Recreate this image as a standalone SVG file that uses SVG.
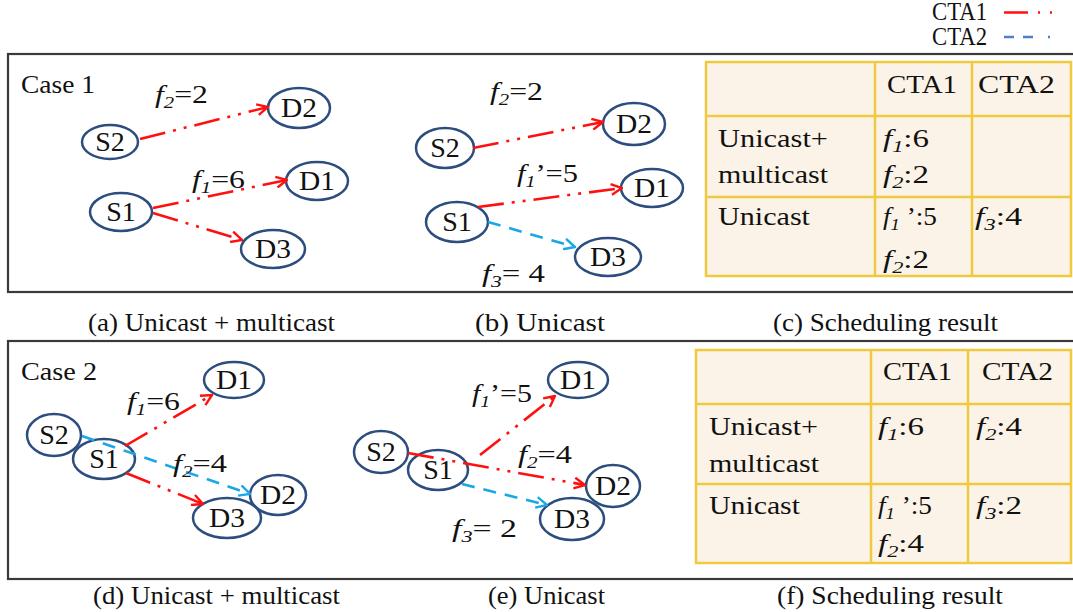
<svg xmlns="http://www.w3.org/2000/svg" width="1073" height="612" viewBox="0 0 1073 612">
<style>
.bg{fill:#fff}
.box{fill:none;stroke:#3a3a3a;stroke-width:2.2}
.node ellipse{fill:#fff;stroke:#2c4d7e;stroke-width:2.5}
.node text{font-family:"Liberation Serif","Times New Roman",serif;font-size:28px;text-anchor:middle;fill:#111}
.red{stroke:#ff1010;stroke-width:2.6;fill:none;stroke-dasharray:26 8 3 8 3 8}
.blue{stroke:#1aa7e6;stroke-width:2.6;fill:none;stroke-dasharray:13 9}
.t{font-family:"Liberation Serif","Times New Roman",serif;font-size:25px;fill:#111}
.lbl{font-family:"Liberation Serif","Times New Roman",serif;font-size:26px;fill:#111}
.cap{font-family:"Liberation Serif","Times New Roman",serif;font-size:25px;fill:#111}
.i{font-style:italic}
.s{font-size:17px;font-style:italic}
.tbl{fill:#fbf3e7;stroke:#f0c940;stroke-width:2.5}
.grid{stroke:#f0c940;stroke-width:2.5}
</style>
<defs>
<marker id="ar" viewBox="0 0 12 12" refX="11" refY="6" markerWidth="13" markerHeight="13" markerUnits="userSpaceOnUse" orient="auto"><path d="M1,1 L11,6 L1,11" fill="none" stroke="#ff1010" stroke-width="2.2"/></marker>
<marker id="ab" viewBox="0 0 12 12" refX="11" refY="6" markerWidth="13" markerHeight="13" markerUnits="userSpaceOnUse" orient="auto"><path d="M1,1 L11,6 L1,11" fill="none" stroke="#1aa7e6" stroke-width="2.2"/></marker>
</defs>
<rect class="bg" x="0" y="0" width="1073" height="612"/>

<g id="legend">
<text class="t" x="932" y="20" font-size="20" textLength="55" lengthAdjust="spacingAndGlyphs">CTA1</text>
<text class="t" x="932" y="45" font-size="20" textLength="55" lengthAdjust="spacingAndGlyphs">CTA2</text>
<path d="M1004,12.5 H1055" stroke="#ff1010" stroke-width="2.4" stroke-dasharray="24 10 2 10 2 10"/>
<path d="M1004,37 H1055" stroke="#4f81c8" stroke-width="2.4" stroke-dasharray="10 9 10 15 2 10"/>
</g>

<g id="frames">
<rect class="box" x="8" y="54" width="1075" height="238"/>
<rect class="box" x="8" y="341" width="1075" height="238"/>
</g>

<g id="case-labels">
<text class="t" x="21" y="93" font-size="23" textLength="74" lengthAdjust="spacingAndGlyphs">Case 1</text>
<text class="t" x="21" y="380" font-size="23" textLength="76" lengthAdjust="spacingAndGlyphs">Case 2</text>
</g>

<!-- Case 1 (a) -->
<g id="a-S2" class="node"><ellipse cx="110" cy="142" rx="28" ry="17"/><text x="110" y="151">S2</text></g>
<g id="a-D2" class="node"><ellipse cx="299" cy="108" rx="31" ry="20"/><text x="299" y="117" textLength="36" lengthAdjust="spacingAndGlyphs">D2</text></g>
<g id="a-S1" class="node"><ellipse cx="121" cy="212" rx="31" ry="19"/><text x="121" y="221">S1</text></g>
<g id="a-D1" class="node"><ellipse cx="317" cy="181" rx="31" ry="19"/><text x="317" y="190" textLength="36" lengthAdjust="spacingAndGlyphs">D1</text></g>
<g id="a-D3" class="node"><ellipse cx="273" cy="249" rx="32" ry="19"/><text x="273" y="258" textLength="36" lengthAdjust="spacingAndGlyphs">D3</text></g>

<!-- Case 1 (b) -->
<g id="b-S2" class="node"><ellipse cx="445" cy="148" rx="29" ry="20"/><text x="445" y="157">S2</text></g>
<g id="b-D2" class="node"><ellipse cx="634" cy="124" rx="31" ry="21"/><text x="634" y="133" textLength="36" lengthAdjust="spacingAndGlyphs">D2</text></g>
<g id="b-S1" class="node"><ellipse cx="457" cy="222" rx="31" ry="20"/><text x="457" y="231">S1</text></g>
<g id="b-D1" class="node"><ellipse cx="652" cy="188" rx="31" ry="19"/><text x="652" y="197" textLength="36" lengthAdjust="spacingAndGlyphs">D1</text></g>
<g id="b-D3" class="node"><ellipse cx="608" cy="257" rx="33" ry="19"/><text x="608" y="266" textLength="36" lengthAdjust="spacingAndGlyphs">D3</text></g>

<!-- Case 2 (d) -->
<g id="d-S2" class="node"><ellipse cx="54" cy="435" rx="27" ry="21"/><text x="54" y="444">S2</text></g>
<g id="d-S1" class="node"><ellipse cx="104" cy="459" rx="31" ry="20"/><text x="104" y="468">S1</text></g>
<g id="d-D1" class="node"><ellipse cx="234" cy="380" rx="30" ry="18"/><text x="234" y="389" textLength="36" lengthAdjust="spacingAndGlyphs">D1</text></g>
<g id="d-D2" class="node"><ellipse cx="278" cy="495" rx="28" ry="20"/><text x="278" y="504" textLength="36" lengthAdjust="spacingAndGlyphs">D2</text></g>
<g id="d-D3" class="node"><ellipse cx="227" cy="518" rx="34" ry="20"/><text x="227" y="527" textLength="36" lengthAdjust="spacingAndGlyphs">D3</text></g>

<!-- Case 2 (e) -->
<g id="e-S2" class="node"><ellipse cx="381" cy="452" rx="27" ry="21"/><text x="381" y="461">S2</text></g>
<g id="e-S1" class="node"><ellipse cx="438" cy="470" rx="30" ry="20"/><text x="438" y="479">S1</text></g>
<g id="e-D1" class="node"><ellipse cx="578" cy="380" rx="30" ry="18"/><text x="578" y="389" textLength="36" lengthAdjust="spacingAndGlyphs">D1</text></g>
<g id="e-D2" class="node"><ellipse cx="613" cy="486" rx="27" ry="21"/><text x="613" y="495" textLength="36" lengthAdjust="spacingAndGlyphs">D2</text></g>
<g id="e-D3" class="node"><ellipse cx="572" cy="519" rx="32" ry="21"/><text x="572" y="528" textLength="36" lengthAdjust="spacingAndGlyphs">D3</text></g>

<g id="connectors">
<path class="red" d="M140,139 L268,107" marker-end="url(#ar)"/>
<path class="red" d="M153,208 L287,180" marker-end="url(#ar)"/>
<path class="red" d="M153,213 L242,240" marker-end="url(#ar)"/>

<path class="red" d="M473,148 L603,122" marker-end="url(#ar)"/>
<path class="red" d="M478,207 L622,188" marker-end="url(#ar)"/>
<path class="blue" d="M488,222 L575,247" marker-end="url(#ab)"/>

<path class="red" d="M125,446 L212,395" marker-end="url(#ar)"/>
<path class="blue" d="M82,436 L250,494" marker-end="url(#ab)"/>
<path class="red" d="M126,473 L203,504" marker-end="url(#ar)"/>

<path class="red" d="M408,453 L585,485" marker-end="url(#ar)"/>
<path class="red" d="M480,455 L555,396" marker-end="url(#ar)"/>
<path class="blue" d="M462,484 L547,505" marker-end="url(#ab)"/>
</g>

<g id="edge-labels">
<text class="lbl" x="155" y="103" textLength="53" lengthAdjust="spacingAndGlyphs"><tspan class="i">f</tspan><tspan class="s" dy="5">2</tspan><tspan dy="-5">=2</tspan></text>
<text class="lbl" x="192" y="188" textLength="53" lengthAdjust="spacingAndGlyphs"><tspan class="i">f</tspan><tspan class="s" dy="5">1</tspan><tspan dy="-5">=6</tspan></text>
<text class="lbl" x="490" y="100" textLength="53" lengthAdjust="spacingAndGlyphs"><tspan class="i">f</tspan><tspan class="s" dy="5">2</tspan><tspan dy="-5">=2</tspan></text>
<text class="lbl" x="517" y="182" textLength="61" lengthAdjust="spacingAndGlyphs"><tspan class="i">f</tspan><tspan class="s" dy="5">1</tspan><tspan dy="-5">’=5</tspan></text>
<text class="lbl" x="482" y="282" textLength="63" lengthAdjust="spacingAndGlyphs"><tspan class="i">f</tspan><tspan class="s" dy="5">3</tspan><tspan dy="-5">= 4</tspan></text>
<text class="lbl" x="127" y="410" textLength="53" lengthAdjust="spacingAndGlyphs"><tspan class="i">f</tspan><tspan class="s" dy="5">1</tspan><tspan dy="-5">=6</tspan></text>
<text class="lbl" x="173" y="472" textLength="54" lengthAdjust="spacingAndGlyphs"><tspan class="i">f</tspan><tspan class="s" dy="5">2</tspan><tspan dy="-5">=4</tspan></text>
<text class="lbl" x="472" y="402" textLength="60" lengthAdjust="spacingAndGlyphs"><tspan class="i">f</tspan><tspan class="s" dy="5">1</tspan><tspan dy="-5">’=5</tspan></text>
<text class="lbl" x="518" y="463" textLength="54" lengthAdjust="spacingAndGlyphs"><tspan class="i">f</tspan><tspan class="s" dy="5">2</tspan><tspan dy="-5">=4</tspan></text>
<text class="lbl" x="452" y="537" textLength="65" lengthAdjust="spacingAndGlyphs"><tspan class="i">f</tspan><tspan class="s" dy="5">3</tspan><tspan dy="-5">= 2</tspan></text>
</g>

<g id="table-c">
<rect class="tbl" x="706" y="62" width="365" height="214"/>
<path class="grid" d="M875,62 V276 M972,62 V276 M706,116 H1071 M706,197 H1071"/>
<text class="t" x="887" y="93" textLength="70" lengthAdjust="spacingAndGlyphs">CTA1</text>
<text class="t" x="978" y="93" textLength="77" lengthAdjust="spacingAndGlyphs">CTA2</text>
<text class="t" x="718" y="147" textLength="110" lengthAdjust="spacingAndGlyphs">Unicast+</text>
<text class="t" x="718" y="183" textLength="110" lengthAdjust="spacingAndGlyphs">multicast</text>
<text class="t" x="718" y="225" textLength="92" lengthAdjust="spacingAndGlyphs">Unicast</text>
<text class="t" x="883" y="147" textLength="46" lengthAdjust="spacingAndGlyphs"><tspan class="i">f</tspan><tspan class="s" dy="5">1</tspan><tspan dy="-5">:6</tspan></text>
<text class="t" x="883" y="183" textLength="46" lengthAdjust="spacingAndGlyphs"><tspan class="i">f</tspan><tspan class="s" dy="5">2</tspan><tspan dy="-5">:2</tspan></text>
<text class="t" x="883" y="225" textLength="54" lengthAdjust="spacingAndGlyphs"><tspan class="i">f</tspan><tspan class="s" dy="5">1</tspan><tspan dy="-5"> ’:5</tspan></text>
<text class="t" x="883" y="268" textLength="46" lengthAdjust="spacingAndGlyphs"><tspan class="i">f</tspan><tspan class="s" dy="5">2</tspan><tspan dy="-5">:2</tspan></text>
<text class="t" x="975" y="225" textLength="47" lengthAdjust="spacingAndGlyphs"><tspan class="i">f</tspan><tspan class="s" dy="5">3</tspan><tspan dy="-5">:4</tspan></text>
</g>

<g id="table-f">
<rect class="tbl" x="696" y="350" width="375" height="213"/>
<path class="grid" d="M871,350 V563 M968,350 V563 M696,404 H1071 M696,484 H1071"/>
<text class="t" x="883" y="380" textLength="69" lengthAdjust="spacingAndGlyphs">CTA1</text>
<text class="t" x="982" y="380" textLength="71" lengthAdjust="spacingAndGlyphs">CTA2</text>
<text class="t" x="709" y="435" textLength="109" lengthAdjust="spacingAndGlyphs">Unicast+</text>
<text class="t" x="709" y="472" textLength="110" lengthAdjust="spacingAndGlyphs">multicast</text>
<text class="t" x="709" y="514" textLength="91" lengthAdjust="spacingAndGlyphs">Unicast</text>
<text class="t" x="878" y="435" textLength="46" lengthAdjust="spacingAndGlyphs"><tspan class="i">f</tspan><tspan class="s" dy="5">1</tspan><tspan dy="-5">:6</tspan></text>
<text class="t" x="976" y="435" textLength="46" lengthAdjust="spacingAndGlyphs"><tspan class="i">f</tspan><tspan class="s" dy="5">2</tspan><tspan dy="-5">:4</tspan></text>
<text class="t" x="878" y="514" textLength="54" lengthAdjust="spacingAndGlyphs"><tspan class="i">f</tspan><tspan class="s" dy="5">1</tspan><tspan dy="-5"> ’:5</tspan></text>
<text class="t" x="878" y="552" textLength="46" lengthAdjust="spacingAndGlyphs"><tspan class="i">f</tspan><tspan class="s" dy="5">2</tspan><tspan dy="-5">:4</tspan></text>
<text class="t" x="976" y="514" textLength="46" lengthAdjust="spacingAndGlyphs"><tspan class="i">f</tspan><tspan class="s" dy="5">3</tspan><tspan dy="-5">:2</tspan></text>
</g>

<g id="captions">
<text class="cap" x="88" y="331" textLength="247" lengthAdjust="spacingAndGlyphs">(a) Unicast + multicast</text>
<text class="cap" x="475" y="331" textLength="130" lengthAdjust="spacingAndGlyphs">(b) Unicast</text>
<text class="cap" x="773" y="331" textLength="225" lengthAdjust="spacingAndGlyphs">(c) Scheduling result</text>
<text class="cap" x="93" y="604" textLength="247" lengthAdjust="spacingAndGlyphs">(d) Unicast + multicast</text>
<text class="cap" x="488" y="604" textLength="117" lengthAdjust="spacingAndGlyphs">(e) Unicast</text>
<text class="cap" x="777" y="604" textLength="226" lengthAdjust="spacingAndGlyphs">(f) Scheduling result</text>
</g>
</svg>
